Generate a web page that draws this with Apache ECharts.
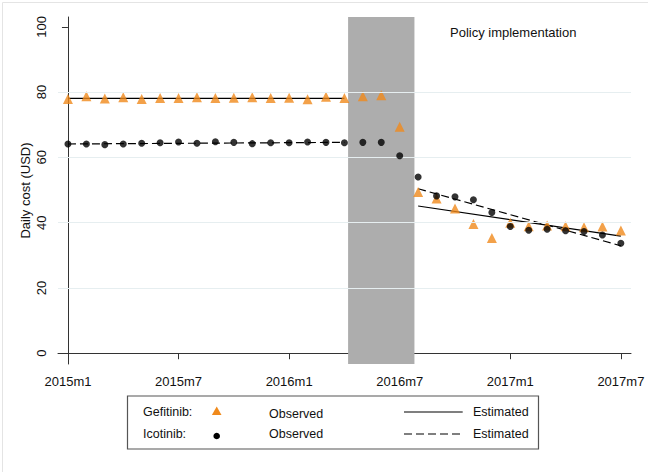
<!DOCTYPE html>
<html>
<head>
<meta charset="utf-8">
<script src="https://cdn.jsdelivr.net/npm/echarts@6/dist/echarts.min.js"></script>
<style>
html,body{margin:0;padding:0;background:#fff;}
#c{width:648px;height:472px;}
</style>
</head>
<body>
<div id="c"></div>
<script>
// ---- data ----
var months = [0,1,2,3,4,5,6,7,8,9,10,11,12,13,14,15,16,17,18,19,20,21,22,23,24,25,26,27,28,29,30];
var xTickValues = [0,6,12,18,24,30];
var xTickLabels = ['2015m1','2015m7','2016m1','2016m7','2017m1','2017m7'];
var yTickValues = [0,20,40,60,80,100];
var gridValues = [20,40,60,80];
var gefitinibObserved = [77.9,78.7,78.0,78.4,77.9,78.2,78.2,78.4,78.2,78.3,78.4,78.2,78.3,77.8,78.6,78.2,78.7,79.0,69.4,49.4,47.4,44.3,39.6,35.3,40.0,38.9,39.1,38.9,38.6,38.8,37.6];
var icotinibObserved = [64.1,64.1,63.9,64.1,64.3,64.5,64.7,64.3,64.8,64.6,64.2,64.5,64.5,64.7,64.6,64.5,64.6,64.6,60.5,54.0,48.2,47.9,47.0,43.1,38.8,37.7,38.0,37.5,37.3,36.2,33.7];
var gefitinibEstPre = [[0,78.1],[15,78.1]];
var gefitinibEstPost = [[19,45.1],[30,35.9]];
var icotinibEstPre = [[0,64.1],[15,64.6]];
var icotinibEstPost = [[19,50.4],[30,32.9]];
var policyPeriod = [15.2, 18.8];

function pairs(xs, ys){ return xs.map(function(x,i){ return [x, ys[i]]; }); }

var FONT = '"Liberation Sans", Arial, sans-serif';
var chart = echarts.init(document.getElementById('c'), null, {renderer:'svg'});
var dash = [8,4];

var option = {
  backgroundColor: '#fff',
  animation: false,
  grid: {left: 58, right: 17, top: 17, bottom: 108},
  xAxis: {
    type: 'value', min: -0.54, max: 30.55,
    splitLine: {show:false},
    axisLine: {lineStyle:{color:'#333', width:1}},
    axisTick: {show:true, length:6, customValues: xTickValues, lineStyle:{color:'#333'}},
    axisLabel: {customValues: xTickValues, margin: 11, color:'#111', fontSize:13, fontFamily: FONT,
      formatter: function(v){ var i = xTickValues.indexOf(v); return i>=0 ? xTickLabels[i] : ''; }}
  },
  yAxis: {
    type: 'value', min: -3.3, max: 103,
    name: 'Daily cost (USD)', nameLocation: 'middle', nameGap: 26, nameRotate: 90, nameMoveOverlap: false,
    nameTextStyle: {color:'#111', fontSize:13, fontFamily: FONT},
    splitLine: {show:false},
    axisLine: {show:true, lineStyle:{color:'#333', width:1}},
    axisTick: {show:true, length:6, customValues: yTickValues, lineStyle:{color:'#333'}},
    axisLabel: {customValues: yTickValues, rotate: 90, margin: 10, color:'#111', fontSize:13, fontFamily: FONT}
  },
  graphic: [
    {type:'rect', left:0, top:0, shape:{x:0.5,y:0.5,width:647,height:471}, style:{fill:'none', stroke:'#e4e4e4', lineWidth:1}, silent:true},
    {type:'text', left:450, top:26, style:{text:'Policy implementation', fill:'#111', font:'13px ' + FONT}},
    {type:'rect', shape:{x:127.5, y:396, width:411, height:53}, style:{fill:'none', stroke:'#555', lineWidth:1.2}},
    {type:'text', x:143, y:412, style:{text:'Gefitinib:', fill:'#111', font:'12.5px ' + FONT, textVerticalAlign:'middle'}},
    {type:'text', x:143, y:434, style:{text:'Icotinib:', fill:'#111', font:'12.5px ' + FONT, textVerticalAlign:'middle'}},
    {type:'polygon', shape:{points:[[216.7,406.5],[221.5,415],[211.9,415]]}, style:{fill:'#f08a1c'}},
    {type:'circle', shape:{cx:216.7, cy:436, r:3.3}, style:{fill:'#000'}},
    {type:'text', x:269, y:413.5, style:{text:'Observed', fill:'#111', font:'12.5px ' + FONT, textVerticalAlign:'middle'}},
    {type:'text', x:269, y:434, style:{text:'Observed', fill:'#111', font:'12.5px ' + FONT, textVerticalAlign:'middle'}},
    {type:'line', shape:{x1:404, y1:412, x2:462.7, y2:412}, style:{stroke:'#000', lineWidth:1.2}},
    {type:'line', shape:{x1:404, y1:434, x2:462.7, y2:434}, style:{stroke:'#000', lineWidth:1.2, lineDash:dash}},
    {type:'text', x:473, y:412, style:{text:'Estimated', fill:'#111', font:'12.5px ' + FONT, textVerticalAlign:'middle'}},
    {type:'text', x:473, y:434, style:{text:'Estimated', fill:'#111', font:'12.5px ' + FONT, textVerticalAlign:'middle'}}
  ],
  series: [
    {type:'line', name:'grid', data:[], z:0, silent:true,
      markLine:{silent:true, symbol:['none','none'], label:{show:false},
        lineStyle:{color:'#e6eef0', type:'solid', width:1},
        data: gridValues.map(function(v){ return {yAxis:v}; })}},
    {type:'line', name:'policy', data:[], z:1, silent:true,
      markArea:{silent:true, itemStyle:{color:'#adadad'},
        data:[[{xAxis: policyPeriod[0]},{xAxis: policyPeriod[1]}]]}},
    {type:'line', name:'gefEstPre', data:gefitinibEstPre, z:3, symbol:'none', lineStyle:{color:'#000', width:1.2}},
    {type:'line', name:'gefEstPost', data:gefitinibEstPost, z:3, symbol:'none', lineStyle:{color:'#000', width:1.2}},
    {type:'line', name:'icoEstPre', data:icotinibEstPre, z:3, symbol:'none', lineStyle:{color:'#000', width:1.2, type:dash}},
    {type:'line', name:'icoEstPost', data:icotinibEstPost, z:3, symbol:'none', lineStyle:{color:'#000', width:1.2, type:dash}},
    {type:'scatter', name:'Gefitinib', data:pairs(months, gefitinibObserved), z:4, symbol:'triangle', symbolSize:10, itemStyle:{color:'#f08a1c'}},
    {type:'scatter', name:'Icotinib', data:pairs(months, icotinibObserved), z:5, symbol:'circle', symbolSize:7, itemStyle:{color:'#000'}}
  ]
};
chart.setOption(option);
</script>
</body>
</html>
